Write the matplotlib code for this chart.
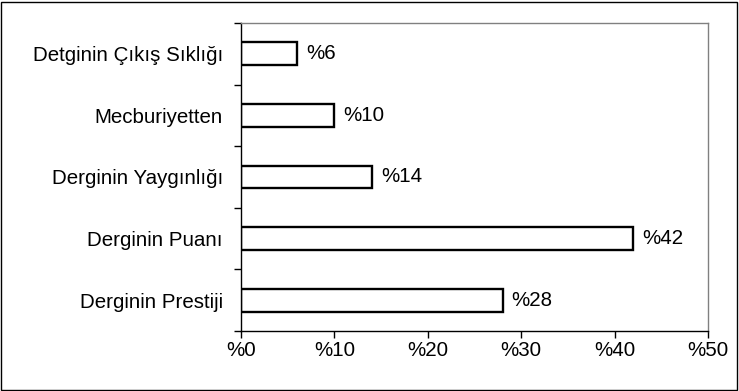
import matplotlib
matplotlib.use("Agg")
import matplotlib.pyplot as plt
from matplotlib.patches import Rectangle
from matplotlib.ticker import FixedLocator, NullFormatter

plt.rcParams["font.family"] = ["Liberation Sans", "DejaVu Sans"]

categories = ["Derginin Prestiji", "Derginin Puanı", "Derginin Yaygınlığı",
              "Mecburiyetten", "Detginin Çıkış Sıklığı"]
values = [28, 42, 14, 10, 6]
xticks = [0, 10, 20, 30, 40, 50]
xticklabels = ["%0", "%10", "%20", "%30", "%40", "%50"]

FS = 14.8

fig = plt.figure(figsize=(7.39, 3.91), dpi=100)
ax = fig.add_axes([241 / 739, 1 - 331 / 391, 467 / 739, 308 / 391])

ypos = list(range(len(categories)))
ax.barh(ypos, values, height=0.37, color="white", edgecolor="black", linewidth=1.7)
for y, v in zip(ypos, values):
    ax.annotate(f"%{v}", (v, y), xytext=(6.5, 0), textcoords="offset points",
                va="center", ha="left", fontsize=FS)

ax.set_xlim(0, 50)
ax.set_ylim(-0.5, len(categories) - 0.5)
ax.set_xticks(xticks)
ax.set_xticklabels(xticklabels, fontsize=FS)
ax.set_yticks(ypos)
ax.set_yticklabels(categories, fontsize=FS)
ax.yaxis.set_minor_locator(FixedLocator([i - 0.5 for i in range(len(categories) + 1)]))
ax.yaxis.set_minor_formatter(NullFormatter())
ax.tick_params(axis="y", which="major", length=0, pad=13)
ax.tick_params(axis="y", which="minor", length=5, width=1, direction="out")
ax.tick_params(axis="x", length=5, width=1, direction="out", pad=2.5)

for side in ["top", "right"]:
    ax.spines[side].set_color("#808080")
    ax.spines[side].set_linewidth(1)
for side in ["left", "bottom"]:
    ax.spines[side].set_color("black")
    ax.spines[side].set_linewidth(1)

fig.patches.append(Rectangle((1 / 739, 1 / 391), 736 / 739, 388 / 391,
                             transform=fig.transFigure, fill=False,
                             edgecolor="black", linewidth=1))

fig.savefig("out.png", dpi=100)
